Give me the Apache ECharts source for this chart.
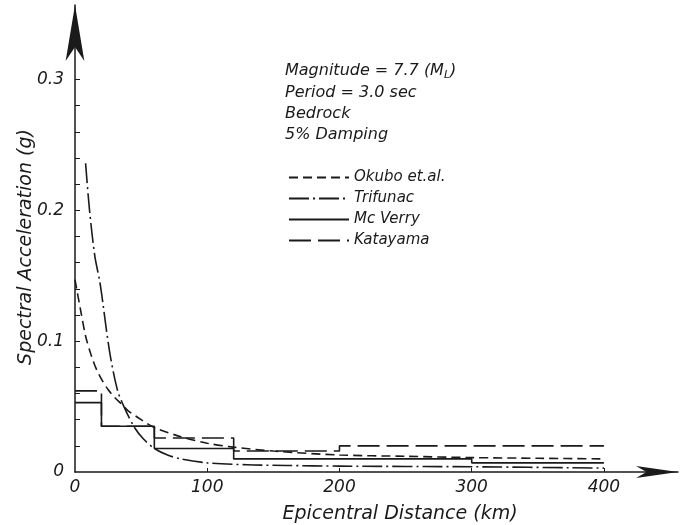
<!DOCTYPE html>
<html>
<head>
<meta charset="utf-8">
<script src="https://cdn.jsdelivr.net/npm/echarts@6/dist/echarts.min.js"></script>
<style>html,body{margin:0;padding:0;background:#fff}#c{width:680px;height:525px}</style>
</head>
<body>
<div id="c"></div>
<script>
// ---- data ----
var okuboX = [0, 4, 8, 12, 16, 20, 25, 30, 35, 40, 50, 60, 80, 100, 120, 150, 200, 250, 300, 350, 400];
var okuboY = [0.147, 0.125, 0.104, 0.090, 0.079, 0.071, 0.063, 0.057, 0.052, 0.047, 0.040, 0.034, 0.027, 0.022, 0.019, 0.016, 0.013, 0.012, 0.011, 0.0105, 0.010];
var trifunacX = [8, 11, 15, 19, 26, 32, 37, 45, 52, 60, 70, 80, 100, 130, 160, 200, 300, 400];
var trifunacY = [0.236, 0.200, 0.165, 0.144, 0.093, 0.063, 0.050, 0.034, 0.025, 0.018, 0.013, 0.010, 0.007, 0.0055, 0.005, 0.0045, 0.004, 0.003];
var mcverryEdges = [0, 20, 60, 120, 300, 400];
var mcverryVals = [0.053, 0.035, 0.018, 0.010, 0.007];
var katayamaEdges = [0, 20, 60, 120, 200, 400];
var katayamaVals = [0.062, 0.035, 0.026, 0.016, 0.020];
var seriesNames = ['Okubo et.al.', 'Trifunac', 'Mc Verry', 'Katayama'];
var xTickLabels = [0, 100, 200, 300, 400];
var yTickLabels = [0, 0.1, 0.2, 0.3];
var yMinorTicks = [0.02,0.04,0.06,0.08,0.1,0.12,0.14,0.16,0.18,0.2,0.22,0.24,0.26,0.28,0.3];
var infoLines = ['Period = 3.0 sec', 'Bedrock', '5% Damping'];

function pairs(xs, ys){ return xs.map(function(x,i){ return [x, ys[i]]; }); }
function steps(edges, vals){
  var d = edges.slice(0, -1).map(function(e,i){ return [e, vals[i]]; });
  d.push([edges[edges.length-1], vals[vals.length-1]]);
  return d;
}
var INK = '#1a1a1a';
var FONT = 'DejaVu Sans';

var chart = echarts.init(document.getElementById('c'));
var option = {
  animation: false,
  color: [INK, INK, INK, INK],
  grid: {left: 75, right: 2, top: 5, bottom: 53},
  xAxis: {
    type: 'value', min: 0, max: 456,
    axisLine: {lineStyle: {color: INK, width: 1.5}, symbol: ['none', 'arrow'], symbolSize: [9, 42]},
    axisTick: {inside: true, length: 4, customValues: [100, 200, 300, 400], lineStyle: {color: INK}},
    axisLabel: {customValues: xTickLabels, color: INK, fontFamily: FONT, fontStyle: 'italic', fontSize: 17, margin: 7},
    splitLine: {show: false}
  },
  yAxis: {
    type: 'value', min: 0, max: 0.357,
    axisLine: {lineStyle: {color: INK, width: 1.5}, symbol: ['none', 'arrow'], symbolSize: [14, 56]},
    axisTick: {inside: true, length: 5, customValues: yMinorTicks, lineStyle: {color: INK}},
    axisLabel: {customValues: yTickLabels, color: INK, fontFamily: FONT, fontStyle: 'italic', fontSize: 17, margin: 11,
      formatter: function(v){ return v === 0 ? '0' : v.toFixed(1); }},
    splitLine: {show: false}
  },
  legend: {
    orient: 'vertical', left: 283, top: 165, itemGap: 6, itemWidth: 60, itemHeight: 16,
    data: seriesNames,
    itemStyle: {opacity: 0},
    textStyle: {color: INK, fontFamily: FONT, fontStyle: 'italic', fontSize: 15}
  },
  series: [
    {name: seriesNames[0], type: 'line', symbol: 'none', data: pairs(okuboX, okuboY), smooth: 0.3,
      lineStyle: {color: INK, width: 1.6, type: [9, 5]}},
    {name: seriesNames[1], type: 'line', symbol: 'none', data: pairs(trifunacX, trifunacY), smooth: 0.3,
      lineStyle: {color: INK, width: 1.6, type: [20, 4, 2, 4]}},
    {name: seriesNames[2], type: 'line', symbol: 'none', step: 'end', data: steps(mcverryEdges, mcverryVals),
      lineStyle: {color: INK, width: 1.6, type: 'solid'}},
    {name: seriesNames[3], type: 'line', symbol: 'none', step: 'end', data: steps(katayamaEdges, katayamaVals),
      lineStyle: {color: INK, width: 1.6, type: [22, 7]}}
  ],
  graphic: [
    {type: 'text', left: 285, top: 63, style: {text: '{a|Magnitude = 7.7 (M}{s|L}{a|)}', rich: {
      a: {fontFamily: FONT, fontStyle: 'italic', fontSize: 16, fill: INK},
      s: {fontFamily: FONT, fontStyle: 'italic', fontSize: 11, fill: INK, padding: [8, 0, 0, 0]}}}},
    {type: 'text', left: 285, top: 85, style: {text: infoLines[0], font: 'italic 16px "DejaVu Sans"', fill: INK}},
    {type: 'text', left: 285, top: 106, style: {text: infoLines[1], font: 'italic 16px "DejaVu Sans"', fill: INK}},
    {type: 'text', left: 285, top: 127, style: {text: infoLines[2], font: 'italic 16px "DejaVu Sans"', fill: INK}},
    {type: 'text', x: 26, y: 247, rotation: Math.PI/2,
      style: {text: 'Spectral Acceleration (g)', font: 'italic 19px "DejaVu Sans"', fill: INK, align: 'center', verticalAlign: 'middle'}},
    {type: 'text', x: 400, y: 514, style: {text: 'Epicentral Distance (km)', font: 'italic 19px "DejaVu Sans"', fill: INK, align: 'center', verticalAlign: 'middle'}}
  ]
};
chart.setOption(option);
</script>
</body>
</html>
